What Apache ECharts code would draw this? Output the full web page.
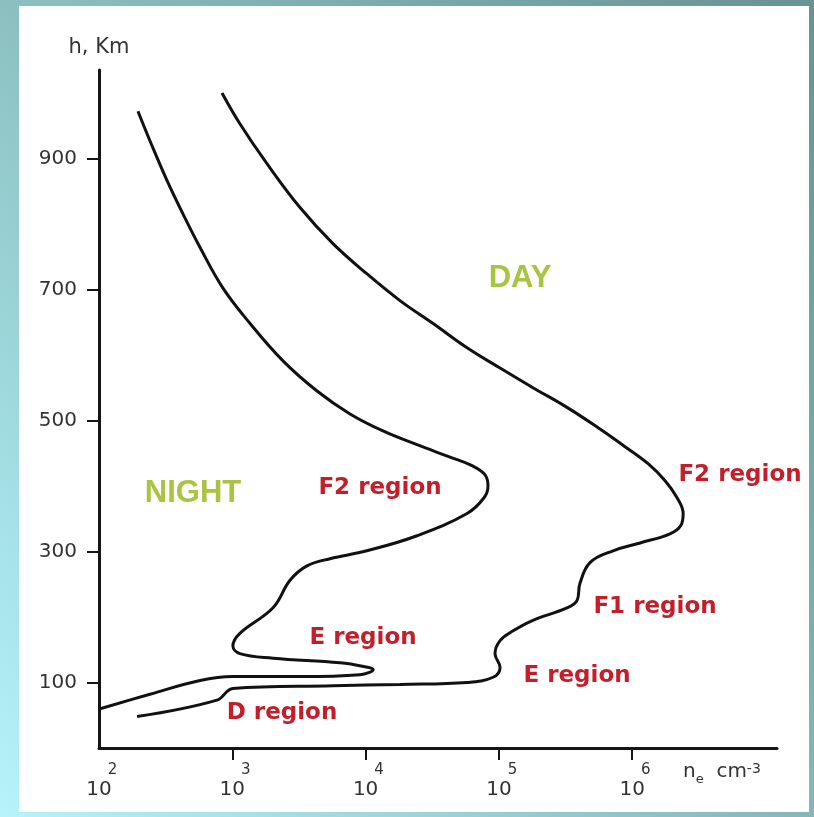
<!DOCTYPE html>
<html>
<head>
<meta charset="utf-8">
<script src="https://cdn.jsdelivr.net/npm/echarts@6/dist/echarts.min.js"></script>
<style>
html, body { margin: 0; padding: 0; }
body {
	width: 814px; height: 817px; overflow: hidden; position: relative;
	background: linear-gradient(to right, rgba(255,255,255,0) 0%, rgba(30,50,50,0.32) 100%),
		linear-gradient(to bottom, #8cc0c0 0%, #a6e2e8 65%, #b4f4fa 100%);
}
#panel { position: absolute; left: 19px; top: 6px; width: 790px; height: 806px; background: #fff; }
#main { position: absolute; left: 0; top: 0; width: 814px; height: 817px; }
</style>
</head>
<body>
<div id="panel"></div>
<div id="main"></div>
<script>
// electron density (cm^-3) vs height (km)
var nightDensity = [196, 241, 324, 427, 573, 851, 1360, 2400, 4320, 7640, 13500, 24300, 43000, 62800, 78700, 82800, 77300, 57700, 24300, 10200, 5400, 3630, 2710, 2020, 1140, 1010, 1140, 2020, 6430, 9900, 11400, 9070, 3220, 1010, 573, 241, 102];
var nightHeight = [972, 927, 866, 815, 764, 702, 648, 591, 545, 510, 484, 463, 444, 431, 417, 400, 382, 358, 324, 301, 289, 278, 256, 214, 175, 156, 144, 137, 130, 124, 120, 112, 109, 109, 103, 82, 60];
var dayDensity = [837, 1140, 1820, 3220, 5690, 10200, 18100, 32100, 57700, 102000, 180000, 324000, 573000, 883000, 1315000, 1764000, 2170000, 2410000, 2320000, 1920000, 1146000, 718000, 482000, 405000, 385000, 324000, 180000, 128000, 102000, 93500, 102000, 90400, 57700, 18100, 5690, 1010, 767, 193];
var dayHeight = [1000, 953, 892, 825, 770, 724, 683, 648, 611, 580, 550, 520, 487, 460, 434, 408, 382, 358, 340, 327, 313, 301, 283, 251, 225, 214, 195, 179, 164, 144, 123, 108, 100, 97, 95, 91, 73, 48];
var decadeLabels = [2, 3, 4, 5, 6];
var decadeTicks = [3, 4, 5, 6];
var heightTicks = [100, 300, 500, 700, 900];

var chart = echarts.init(document.getElementById("main"));

function toPoints(dens, hts) {
	var pts = [];
	for (var i = 0; i < dens.length; i++) {
		pts.push([Math.log10(dens[i]), hts[i]]);
	}
	return pts;
}

var red = '#c21f2b', green = '#a8c440';
function regionText(txt, x, y, color, font) {
	return {
		type: 'text', x: x, y: y, z: 10,
		style: { text: txt, fill: color, font: font, align: 'center', verticalAlign: 'middle' }
	};
}
var redFont = 'bold 23px "DejaVu Sans"';
var greenFont = 'bold 31px "Liberation Sans"';

var option = {
	backgroundColor: 'transparent',
	animation: false,
	grid: { left: 99, right: 37, top: 70, bottom: 69, outerBoundsMode: 'none' },
	xAxis: {
		type: 'value',
		min: 2,
		max: 7.086,
		splitLine: { show: false },
		axisLine: { lineStyle: { color: '#151515', width: 3 } },
		axisTick: { customValues: decadeTicks, length: 12, lineStyle: { color: '#151515', width: 2 } },
		axisLabel: {
			customValues: decadeLabels,
			margin: 15,
			// exponent on first line, shifted right; base 10 on second line
			formatter: function(v) {
				return '{s|' + v + '}\n{b|10}';
			},
			rich: {
				s: { fontFamily: 'DejaVu Sans', fontSize: 15, color: '#333', lineHeight: 15, padding: [0, 0, 0, 27] },
				b: { fontFamily: 'DejaVu Sans', fontSize: 20, color: '#333', lineHeight: 23 }
			}
		}
	},
	yAxis: {
		type: 'value',
		min: 0,
		max: 1035,
		name: 'h, Km',
		nameLocation: 'end',
		nameGap: 12,
		nameTextStyle: { fontFamily: 'DejaVu Sans', fontSize: 21, color: '#333' },
		splitLine: { show: false },
		axisLine: { lineStyle: { color: '#151515', width: 3 } },
		axisTick: { customValues: heightTicks, length: 12, lineStyle: { color: '#151515', width: 2 } },
		axisLabel: { customValues: heightTicks, margin: 22, fontFamily: 'DejaVu Sans', fontSize: 20, color: '#333' }
	},
	graphic: [
		regionText('NIGHT', 193, 493, green, greenFont),
		regionText('DAY', 520, 278, green, greenFont),
		regionText('F2 region', 380, 488, red, redFont),
		regionText('F2 region', 740, 475, red, redFont),
		regionText('F1 region', 655, 607, red, redFont),
		regionText('E region', 363, 638, red, redFont),
		regionText('E region', 577, 676, red, redFont),
		regionText('D region', 282, 713, red, redFont),
		{
			type: 'text', x: 683, y: 762,
			style: {
				text: '{n|n}{e|e}{c|  cm}{m|-3}',
				rich: {
					n: { fontFamily: 'DejaVu Sans', fontSize: 20, fill: '#333', lineHeight: 20, verticalAlign: 'bottom' },
					e: { fontFamily: 'DejaVu Sans', fontSize: 13, fill: '#333', lineHeight: 13, verticalAlign: 'bottom', padding: [0, 0, -4, 0] },
					c: { fontFamily: 'DejaVu Sans', fontSize: 20, fill: '#333', lineHeight: 20, verticalAlign: 'bottom' },
					m: { fontFamily: 'DejaVu Sans', fontSize: 14, fill: '#333', lineHeight: 14, verticalAlign: 'top' }
				}
			}
		}
	],
	series: [{
		name: 'Night',
		type: 'line',
		data: toPoints(nightDensity, nightHeight),
		showSymbol: false,
		smooth: 0.4,
		lineStyle: { color: '#111', width: 3 }
	}, {
		name: 'Day',
		type: 'line',
		data: toPoints(dayDensity, dayHeight),
		showSymbol: false,
		smooth: 0.4,
		lineStyle: { color: '#111', width: 3 }
	}]
};

chart.setOption(option);
</script>
</body>
</html>
